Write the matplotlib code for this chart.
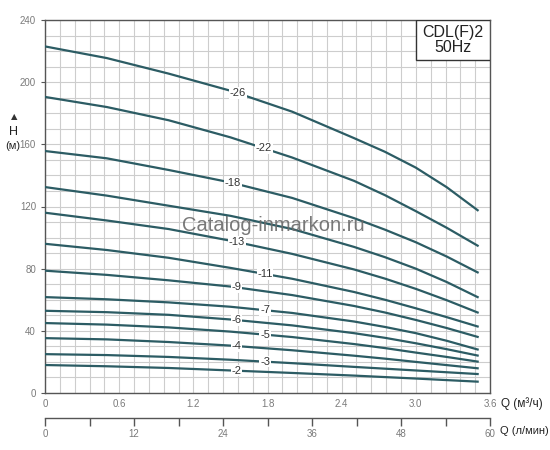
import numpy as np
import matplotlib
matplotlib.use("Agg")
import matplotlib.pyplot as plt
from matplotlib.ticker import MultipleLocator
from matplotlib.patches import Rectangle

plt.rcParams['font.family'] = ['Liberation Sans', 'DejaVu Sans']

# Flow points (m³/h)
q = [0.0, 0.5, 1.0, 1.5, 2.0, 2.5, 2.75, 3.0, 3.25, 3.5]

# Head (m) per number of stages
h26 = [223.0, 215.5, 205.5, 194.5, 181.0, 164.0, 155.2, 145.0, 132.4, 117.6]
h22 = [190.5, 184.0, 175.5, 164.5, 151.5, 136.5, 127.3, 117.0, 106.3, 94.8]
h18 = [155.7, 151.0, 143.5, 135.5, 125.5, 112.5, 105.1, 97.0, 87.8, 77.6]
h15 = [132.5, 127.0, 120.5, 114.0, 105.5, 94.0, 87.4, 80.0, 71.4, 61.7]
h13 = [116.0, 111.0, 105.5, 98.0, 89.5, 79.5, 73.6, 67.0, 59.7, 51.8]
h11 = [96.0, 92.0, 87.0, 80.5, 73.5, 65.0, 60.0, 54.5, 48.8, 42.8]
h9 = [78.7, 76.0, 72.5, 68.5, 63.0, 56.0, 51.8, 47.0, 41.8, 36.1]
h7 = [61.7, 60.3, 58.3, 55.5, 51.5, 46.0, 42.5, 38.5, 33.6, 28.0]
h6 = [52.9, 52.0, 50.3, 47.3, 43.5, 38.5, 35.5, 32.0, 28.2, 24.1]
h5 = [45.0, 44.0, 42.2, 39.5, 36.0, 31.5, 28.9, 26.0, 23.2, 20.2]
h4 = [35.3, 34.5, 32.8, 30.5, 27.5, 24.0, 22.1, 20.0, 17.95, 15.9]
h3 = [25.0, 24.4, 23.2, 21.4, 19.2, 16.8, 15.65, 14.5, 13.35, 12.2]
h2 = [18.0, 17.2, 16.1, 14.5, 12.9, 11.2, 10.25, 9.3, 8.3, 7.3]

curves = [h26, h22, h18, h15, h13, h11, h9, h7, h6, h5, h4, h3, h2]
labels = ["-26", "-22", "-18", "", "-13", "-11", "-9", "-7", "-6", "-5", "-4", "-3", "-2"]
label_q = [1.56, 1.77, 1.52, 1.6, 1.55, 1.78, 1.55, 1.78, 1.55, 1.78, 1.55, 1.78, 1.55]

x_ticks = [0, 0.6, 1.2, 1.8, 2.4, 3.0, 3.6]
x_ticklabels = ["0", "0.6", "1.2", "1.8", "2.4", "3.0", "3.6"]
y_ticks = [0, 40, 80, 120, 160, 200, 240]
lpm_ticks = [0, 12, 24, 36, 48, 60]

line_color = '#2c5c64'
grid_color = '#cdcdcd'
spine_color = '#555555'
tick_color = '#7a7a7a'

fig = plt.figure(figsize=(5.5, 4.5), dpi=100)
ax = fig.add_axes([45/550, 1-393/450, 445/550, 373/450])
ax.set_xlim(0, 3.6)
ax.set_ylim(0, 240)

# grid
ax.xaxis.set_minor_locator(MultipleLocator(0.12))
ax.yaxis.set_minor_locator(MultipleLocator(10))
ax.grid(which='both', color=grid_color, linewidth=0.8)
ax.set_axisbelow(True)

for h, lab, lq in zip(curves, labels, label_q):
    ax.plot(q, h, color=line_color, linewidth=1.6, zorder=3, solid_joinstyle='round')
    if lab:
        yv = np.interp(lq, q, h)
        ax.text(lq, yv, lab, fontsize=8, color='#333333', ha='center', va='center',
                zorder=4, bbox=dict(facecolor='white', edgecolor='none', pad=0.6))

ax.set_xticks(x_ticks)
ax.set_xticklabels(x_ticklabels)
ax.set_yticks(y_ticks)
ax.tick_params(axis='both', which='major', labelsize=7, labelcolor=tick_color,
               color=spine_color, length=3)
ax.tick_params(axis='x', which='major', length=0, pad=4)
ax.tick_params(which='minor', length=0)
for s in ax.spines.values():
    s.set_color(spine_color)
    s.set_linewidth(1.0)

# second axis (l/min)
sec = ax.secondary_xaxis(-25/373, functions=(lambda x: x * 1000 / 60, lambda x: x * 60 / 1000))
sec.set_xticks(lpm_ticks)
sec.xaxis.set_minor_locator(MultipleLocator(6))
sec.tick_params(which='major', labelsize=7, labelcolor=tick_color, color=spine_color,
                length=6, width=1.0, pad=2, direction='out')
sec.tick_params(which='minor', color=spine_color, length=6, width=1.0, direction='out')
sec.spines['bottom'].set_color(spine_color)
sec.spines['bottom'].set_linewidth(1.0)

# axis titles
fig.text(501/550, 1-404/450, "Q (м³/ч)", fontsize=8.5, color='#222222', ha='left', va='center')
fig.text(500/550, 1-431/450, "Q (л/мин)", fontsize=8, color='#222222', ha='left', va='center')
fig.text(14/550, 1-117/450, "▲", fontsize=6, color='#333333', ha='center', va='center',
         family=['DejaVu Sans'])
fig.text(14/550, 1-132/450, "H", fontsize=9, color='#222222', ha='center', va='center')
fig.text(13/550, 1-146/450, "(м)", fontsize=8, color='#222222', ha='center', va='center')

# model box
bx0 = (416-45)/445
by0 = (393-60)/373
ax.add_patch(Rectangle((bx0, by0), 1-bx0, 1-by0, transform=ax.transAxes,
                       facecolor='white', edgecolor='#333333', linewidth=1.0, zorder=5))
ax.text((bx0+1)/2, 1-(33-20)/373, "CDL(F)2", transform=ax.transAxes, fontsize=11.5,
        color='#222222', ha='center', va='center', zorder=6)
ax.text((bx0+1)/2, 1-(48-20)/373, "50Hz", transform=ax.transAxes, fontsize=11.5,
        color='#222222', ha='center', va='center', zorder=6)

# watermark
ax.text(1.845, 107.7, "Catalog-inmarkon.ru", fontsize=14.5, color='#6a6a6a',
        ha='center', va='center', zorder=5, alpha=0.9)

fig.savefig("out.png", dpi=100, facecolor='white')
